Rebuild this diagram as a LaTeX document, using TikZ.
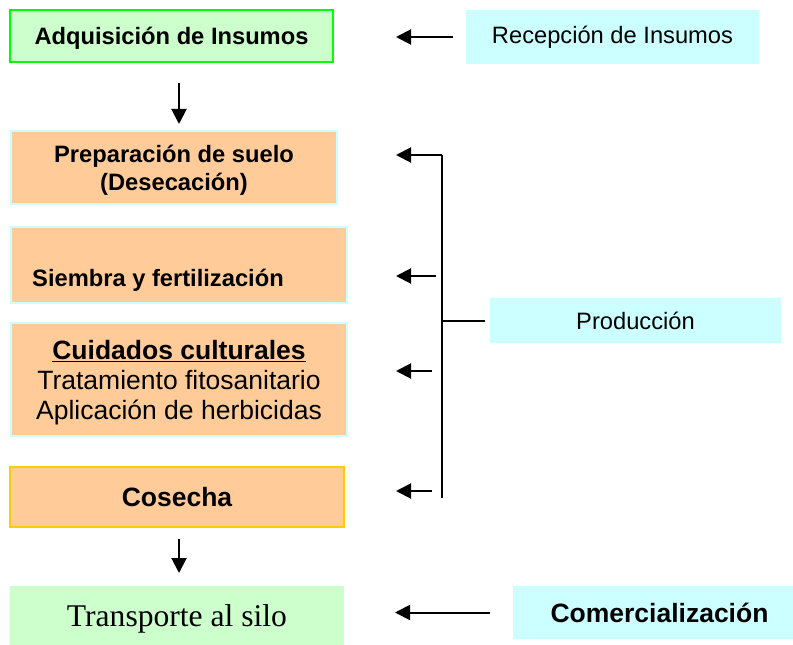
\documentclass[tikz,border=0pt]{standalone}
\usepackage{fontspec}
\setmainfont{Liberation Sans}
\newfontfamily\serifface{Liberation Serif}
\usetikzlibrary{arrows.meta}
\definecolor{peach}{HTML}{FFCC99}
\definecolor{mint}{HTML}{CCFFCC}
\definecolor{icecyan}{HTML}{CCFFFF}
\definecolor{brightgreen}{HTML}{00FF00}
\definecolor{gold}{HTML}{FFCC00}
\begin{document}
\begin{tikzpicture}[x=1bp,y=-1bp,
  box/.style={anchor=north west, inner sep=0pt, outer sep=0pt, align=center},
  lower/.style={text depth=0pt},
  fsmall/.style={font=\fontsize{23.7bp}{28bp}\selectfont},
  fbig/.style={font=\fontsize{26.5bp}{30bp}\selectfont},
  plain/.style={line width=2bp},
  arr/.style={line width=2bp, -{Triangle[length=15bp,width=15bp]}}]
\useasboundingbox (0,0) rectangle (793,645);
% boxes
\node[box, lower, fill=mint, draw=brightgreen, line width=2bp, minimum width=323bp, minimum height=52bp, fsmall] (adq) at (10,10) {\bfseries Adquisición de Insumos};
\node[box, fill=icecyan, minimum width=293bp, minimum height=54bp, fsmall] (rec) at (466,10) {Recepción de Insumos};
\node[box, lower, fill=peach, draw=icecyan, line width=1.5bp, minimum width=326bp, minimum height=73bp, fsmall] (prep) at (11,131) {\bfseries Preparación de suelo\\\bfseries (Desecación)};
\node[box, fill=peach, draw=icecyan, line width=1.5bp, minimum width=336bp, minimum height=76bp] (siem) at (11,227) {};
\node[anchor=west, inner sep=0pt, fsmall] (siemtxt) at (32,280) {\bfseries Siembra y fertilización};
\node[box, lower, fill=peach, draw=icecyan, line width=1.5bp, minimum width=336bp, minimum height=113bp, fbig] (cuid) at (11,323) {\bfseries\underline{Cuidados culturales}\\Tratamiento fitosanitario\\Aplicación de herbicidas};
\node[box, fill=peach, draw=gold, line width=2bp, minimum width=334bp, minimum height=60bp, fbig] (cos) at (10,467) {\bfseries Cosecha};
\node[box, lower, fill=mint, minimum width=334bp, minimum height=59bp, font=\serifface\fontsize{31.6bp}{36bp}\selectfont] (trans) at (10,586) {Transporte al silo};
\node[box, fill=icecyan, minimum width=280bp, minimum height=53bp, fbig] (com) at (513,586) {\hspace*{13bp}\bfseries Comercialización};
\node[box, fill=icecyan, minimum width=291bp, minimum height=45bp, fsmall] (prod) at (490,298) {Producción};
% vertical arrows
\coordinate (d1) at (179,83);
\draw[arr, shorten >=7bp] (d1) -- (d1 |- prep.north);
\coordinate (d2) at (179,539);
\draw[arr, shorten >=13bp] (d2) -- (d2 |- trans.north);
% horizontal arrows
\draw[arr, shorten <=13bp, shorten >=63bp] (rec.west) -- (rec.west -| adq.east);
\draw[arr, shorten <=23bp, shorten >=51bp] (com.west) -- (com.west -| trans.east);
% bracket
\coordinate (bt) at (442,155);
\coordinate (bb) at (442,498);
\draw[plain] (bt) -- (bb);
\draw[arr, shorten >=59bp] (bt) -- (bt -| prep.east);
\coordinate (b2) at (436,276);
\draw[arr, shorten >=49bp] (b2) -- (b2 -| siem.east);
\coordinate (b3) at (432,371);
\draw[arr, shorten >=49bp] (b3) -- (b3 -| cuid.east);
\coordinate (b4) at (432,491);
\draw[arr, shorten >=52bp] (b4) -- (b4 -| cos.east);
\draw[plain, shorten <=5bp] (prod.west) -- (prod.west -| bt);
\end{tikzpicture}
\end{document}
